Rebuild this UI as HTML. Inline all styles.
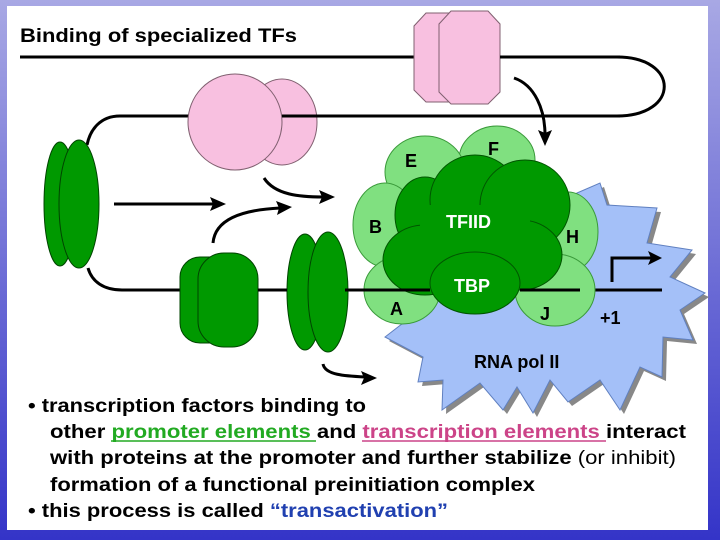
<!DOCTYPE html>
<html><head><meta charset="utf-8"><style>
html,body{margin:0;padding:0;}
body{width:720px;height:540px;overflow:hidden;background:linear-gradient(#a8a8e4,#3434c8);}
svg{position:absolute;left:0;top:0;}
</style></head><body>
<svg width="720" height="540" viewBox="0 0 720 540" xmlns="http://www.w3.org/2000/svg" font-family="'Liberation Sans',Arial,sans-serif">
<defs><linearGradient id="bg" x1="0" y1="0" x2="0" y2="1"><stop offset="0" stop-color="#a8a8e4"/><stop offset="1" stop-color="#3434c8"/></linearGradient></defs>
<rect width="720" height="540" fill="url(#bg)"/>
<rect x="7" y="6" width="701" height="524" fill="#fff"/>
<text x="20" y="42" font-size="19" font-weight="bold" textLength="277" lengthAdjust="spacingAndGlyphs">Binding of specialized TFs</text>
<!-- DNA -->
<path d="M20 57 H617 C680 57 680 116 617 116 H120 C100 116 90 130 87 145" fill="none" stroke="#000" stroke-width="3"/>
<path d="M88 268 C92 282 104 290 122 290 H662" fill="none" stroke="#000" stroke-width="3"/>
<!-- star -->
<g transform="translate(4,4)"><polygon fill="#888" points="577,193 600,183 607,205 657,208 647,243 692,250 670,277 705,293 680,310 693,340 663,337 662,377 640,367 620,410 600,380 568,402 550,380 533,413 517,387 503,410 480,383 442,410 443,380 418,382 423,357 385,337 407,320 420,300"/></g>
<polygon fill="#a4c0f8" stroke="#6080c0" stroke-width="1" points="577,193 600,183 607,205 657,208 647,243 692,250 670,277 705,293 680,310 693,340 663,337 662,377 640,367 620,410 600,380 568,402 550,380 533,413 517,387 503,410 480,383 442,410 443,380 418,382 423,357 385,337 407,320 420,300"/>
<line x1="560" y1="290" x2="662" y2="290" stroke="#000" stroke-width="3"/>
<path d="M612 282 V258 H652" fill="none" stroke="#000" stroke-width="3"/>
<polygon points="662,258 648,251 651,258 648,265" fill="#000"/>
<!-- light green -->
<g fill="#80e080" stroke="#3a9a3a" stroke-width="1">
<ellipse cx="497" cy="160" rx="38" ry="34"/>
<ellipse cx="425" cy="172" rx="40" ry="36"/>
<ellipse cx="385" cy="225" rx="32" ry="42"/>
<ellipse cx="568" cy="232" rx="30" ry="40"/>
<ellipse cx="402" cy="290" rx="38" ry="34"/>
<ellipse cx="555" cy="290" rx="40" ry="36"/>
</g>
<!-- dark core -->
<g fill="#009900" stroke="#005500" stroke-width="1">
<ellipse cx="425" cy="215" rx="30" ry="38"/>
<ellipse cx="475" cy="200" rx="45" ry="45"/>
<ellipse cx="525" cy="205" rx="45" ry="45"/>
<ellipse cx="520" cy="255" rx="42" ry="35"/>
<ellipse cx="425" cy="260" rx="42" ry="35"/>
<rect x="420" y="205" width="110" height="60" stroke="none"/>
<ellipse cx="475" cy="283" rx="45" ry="31"/>
</g>
<line x1="370" y1="290" x2="430" y2="290" stroke="#000" stroke-width="3"/>
<line x1="520" y1="290" x2="580" y2="290" stroke="#000" stroke-width="3"/>
<g font-weight="bold" font-size="18">
<text x="405" y="167">E</text><text x="488" y="155">F</text><text x="369" y="233">B</text>
<text x="566" y="243">H</text><text x="390" y="315">A</text><text x="540" y="320">J</text>
<text x="600" y="324">+1</text><text x="474" y="368">RNA pol II</text>
<text x="446" y="228" fill="#fff">TFIID</text><text x="454" y="292" fill="#fff">TBP</text>
</g>
<!-- pink -->
<g fill="#f8c0e0" stroke="#806070" stroke-width="1">
<polygon points="426,13 458,13 470,26 470,90 458,102 426,102 414,90 414,26"/>
<polygon points="451,11 488,11 500,24 500,92 488,104 451,104 439,92 439,24"/>
<ellipse cx="282" cy="122" rx="35" ry="43"/>
<ellipse cx="235" cy="122" rx="47" ry="48"/>
</g>
<line x1="282" y1="116" x2="620" y2="116" stroke="#000" stroke-width="3"/>
<line x1="500" y1="57" x2="620" y2="57" stroke="#000" stroke-width="3"/>
<!-- left green -->
<g fill="#009900" stroke="#004400" stroke-width="1">
<ellipse cx="60" cy="204" rx="16" ry="62"/>
<ellipse cx="79" cy="204" rx="20" ry="64"/>
<rect x="180" y="257" width="50" height="86" rx="20"/>
<rect x="198" y="253" width="60" height="94" rx="26"/>
<ellipse cx="305" cy="292" rx="18" ry="58"/>
<ellipse cx="328" cy="292" rx="20" ry="60"/>
</g>
<line x1="258" y1="290" x2="287" y2="290" stroke="#000" stroke-width="3"/>
<line x1="345" y1="290" x2="370" y2="290" stroke="#000" stroke-width="3"/>
<!-- arrows -->
<g fill="none" stroke="#000" stroke-width="3">
<path d="M114 204 H215"/>
<path d="M264 178 C275 195 300 197 323 197"/>
<path d="M213 243 C215 220 240 210 280 208"/>
<path d="M514 78 C535 85 545 110 545 135"/>
<path d="M323 364 C325 375 345 376 365 377"/>
</g>
<g fill="#000">
<polygon points="226,204 210,197 213,204 210,211"/>
<polygon points="335,197 319,190 322,197 319,204"/>
<polygon points="292,207 276,201 279,208 277,215"/>
<polygon points="545,146 538,130 545,133 552,130"/>
<polygon points="377,378 361,371 364,378 361,385"/>
</g>
<!-- text -->
<g font-size="19" font-weight="bold">
<text x="28" y="412" textLength="338" lengthAdjust="spacingAndGlyphs">• transcription factors binding to</text>
<text x="50" y="438" textLength="636" lengthAdjust="spacingAndGlyphs">other <tspan fill="#22aa22">promoter elements </tspan>and <tspan fill="#cc4488">transcription elements </tspan>interact</text>
<text x="50" y="464" textLength="626" lengthAdjust="spacingAndGlyphs">with proteins at the promoter and further stabilize <tspan font-weight="normal">(or inhibit)</tspan></text>
<text x="50" y="491" textLength="485" lengthAdjust="spacingAndGlyphs">formation of a functional preinitiation complex</text>
<text x="28" y="517" textLength="420" lengthAdjust="spacingAndGlyphs">• this process is called <tspan fill="#2040b0">“transactivation”</tspan></text>
</g>
<line x1="111" y1="441" x2="316" y2="441" stroke="#22aa22" stroke-width="1.5"/>
<line x1="362" y1="441" x2="606" y2="441" stroke="#cc4488" stroke-width="1.5"/>
</svg>
</body></html>
